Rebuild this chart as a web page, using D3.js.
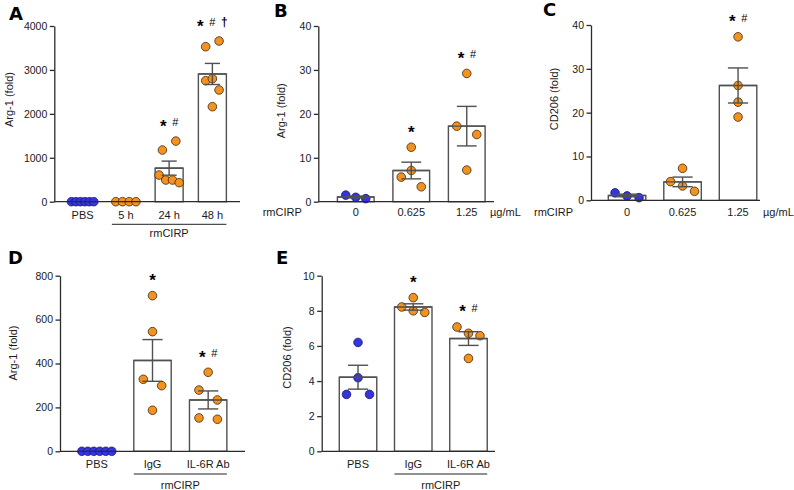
<!DOCTYPE html>
<html>
<head>
<meta charset="utf-8">
<script src="https://cdn.jsdelivr.net/npm/d3@7"></script>
<style>
  html, body { margin: 0; padding: 0; background: #fff; }
  svg { display: block; }
  text { font-family: "Liberation Sans", Arial, Helvetica, sans-serif; fill: #1a1a1a; }
</style>
</head>
<body>
<script>
// ---------------- DATA ----------------
// Panel A: Arg-1 (fold), time course
const A_categories = ["PBS", "5 h", "24 h", "48 h"];
const A_means = [0, 0, 764, 2908];
const A_sems = [0, 0, 160, 240];
const A_points = [
  [0, 0, 0, 0, 0, 0],
  [0, 0, 0, 0],
  [1176, 1380, 607, 493, 493, 433],
  [3529, 3658, 2755, 2801, 2543, 2163]
];
const A_yTicks = [0, 1000, 2000, 3000, 4000];
const A_marks = ["", "", "* #", "* # †"];

// Panel B: Arg-1 (fold), dose response
const B_categories = ["0", "0.625", "1.25"];
const B_means = [1.07, 7.1, 17.2];
const B_sems = [0.2, 1.9, 4.5];
const B_points = [
  [1.5, 1.0, 0.7],
  [12.4, 5.6, 3.4, 7.1],
  [29.2, 17.2, 15.3, 7.2]
];
const B_yTicks = [0, 10, 20, 30, 40];
const B_marks = ["", "*", "* #"];

// Panel C: CD206 (fold), dose response
const C_categories = ["0", "0.625", "1.25"];
const C_means = [1.1, 4.2, 26.2];
const C_sems = [0.3, 1.1, 4.0];
const C_points = [
  [1.7, 1.0, 0.6],
  [7.3, 4.26, 3.27, 2.05],
  [37.3, 26.2, 22.4, 19.0]
];
const C_yTicks = [0, 10, 20, 30, 40];
const C_marks = ["", "", "* #"];

// Panel D: Arg-1 (fold), IL-6R blocking
const D_categories = ["PBS", "IgG", "IL-6R Ab"];
const D_means = [0, 414, 234];
const D_sems = [0, 95, 41];
const D_points = [
  [0, 0, 0, 0, 0, 0],
  [709, 545, 328, 299, 187],
  [360, 279, 234, 152, 146]
];
const D_yTicks = [0, 200, 400, 600, 800];
const D_marks = ["", "*", "* #"];

// Panel E: CD206 (fold), IL-6R blocking
const E_categories = ["PBS", "IgG", "IL-6R Ab"];
const E_means = [4.22, 8.22, 6.42];
const E_sems = [0.68, 0.18, 0.39];
const E_points = [
  [6.2, 4.19, 3.24, 3.24],
  [8.22, 8.0, 7.91, 8.75],
  [7.08, 6.72, 6.58, 5.29]
];
const E_yTicks = [0, 2, 4, 6, 8, 10];
const E_marks = ["", "*", "* #"];

const groupLabel = "rmCIRP";
const doseUnit = "µg/mL";

// ---------------- STYLE ----------------
const BLUE = "#3434e0";
const ORANGE = "#f5911e";
const AXIS = "#2b2b2b";
const BAR = "#505050";

const panels = [
  { letter: "A", lx: 9, ly: 20, cats: A_categories, means: A_means, sems: A_sems, pts: A_points,
    ticks: A_yTicks, marks: A_marks, ctrl: 1, axisX: 54.3, yTop: 26, yBot: 201.7,
    band: [61, 234], xEnd: 240, barW: 28, s: 6.7, ylabel: "Arg-1 (fold)", ylx: 12.7, yly: 99.5,
    catY: 219, group: { from: 1, lineY: 224.3, textY: 237 } },
  { letter: "B", lx: 274, ly: 17, cats: B_categories, means: B_means, sems: B_sems, pts: B_points,
    ticks: B_yTicks, marks: B_marks, ctrl: 1, axisX: 318.3, yTop: 26, yBot: 201.7,
    band: [328, 494.5], xEnd: 494, barW: 36.7, s: 10, ylabel: "Arg-1 (fold)", ylx: 284.5, yly: 110.8,
    catY: 215.5, dose: { prefixX: 262.7, unitX: 490 } },
  { letter: "C", lx: 543, ly: 16, cats: C_categories, means: C_means, sems: C_sems, pts: C_points,
    ticks: C_yTicks, marks: C_marks, ctrl: 1, axisX: 591, yTop: 25, yBot: 200.3,
    band: [599.3, 765.8], xEnd: 760, barW: 37.5, s: 12, ylabel: "CD206 (fold)", ylx: 557.7, yly: 99,
    catY: 216, dose: { prefixX: 534, unitX: 763 } },
  { letter: "D", lx: 8, ly: 264, cats: D_categories, means: D_means, sems: D_sems, pts: D_points,
    ticks: D_yTicks, marks: D_marks, ctrl: 1, axisX: 60, yTop: 275.7, yBot: 451.3,
    band: [69, 236], xEnd: 245, barW: 37.4, s: 9.2, ylabel: "Arg-1 (fold)", ylx: 17, yly: 353,
    catY: 468, group: { from: 1, lineY: 474, textY: 488.5 } },
  { letter: "E", lx: 276, ly: 264, cats: E_categories, means: E_means, sems: E_sems, pts: E_points,
    ticks: E_yTicks, marks: E_marks, ctrl: 1, axisX: 321.7, yTop: 275.7, yBot: 451.3,
    band: [330.4, 496.1], xEnd: 495, barW: 37.5, s: 11.5, ylabel: "CD206 (fold)", ylx: 291, yly: 357.5,
    catY: 468, group: { from: 1, lineY: 474, textY: 488.5 } }
];

const svg = d3.select("body").append("svg")
  .attr("width", 794).attr("height", 490)
  .attr("viewBox", "0 0 794 490");
svg.append("rect").attr("width", 794).attr("height", 490).attr("fill", "#fff");

// arrange replicate dots: consecutive replicates at similar heights share a row
function arrange(vals, y, s, maxW) {
  const groups = [];
  vals.forEach((v, i) => {
    const last = groups[groups.length - 1];
    if (last && Math.abs(y(v) - y(vals[i - 1])) < 12) last.push(v);
    else groups.push([v]);
  });
  const out = [];
  groups.forEach(g => {
    const n = g.length;
    let offs;
    if (n === 1) offs = [0];
    else if (n === 2) offs = [-s, s];
    else if (n === 3) offs = [-s, 0, s];
    else {
      const st = Math.min(s, maxW / (n - 1));
      offs = g.map((_, i) => (i - (n - 1) / 2) * st);
    }
    g.forEach((v, i) => out.push({ v, dx: offs[i] }));
  });
  return out;
}

panels.forEach(p => {
  const g = svg.append("g");
  const y = d3.scaleLinear().domain([0, d3.max(p.ticks)]).range([p.yBot, p.yTop]);
  const x = d3.scaleBand().domain(p.cats).range(p.band).padding(0);
  const cx = c => x(c) + x.bandwidth() / 2;
  const R = 4.3;

  // panel letter
  g.append("text").attr("x", p.lx).attr("y", p.ly)
    .style("font-family", "'DejaVu Sans', 'Liberation Sans', Arial, sans-serif")
    .style("font-weight", "bold").style("font-size", "18px").style("fill", "#000")
    .text(p.letter);

  // bars
  const bars = g.append("g");
  p.cats.forEach((c, i) => {
    if (p.means[i] > 0) {
      bars.append("rect")
        .attr("x", cx(c) - p.barW / 2).attr("y", y(p.means[i]))
        .attr("width", p.barW).attr("height", y(0) - y(p.means[i]))
        .attr("fill", "#fff").attr("stroke", BAR).attr("stroke-width", 1.4);
    }
  });

  // dots
  const dots = g.append("g");
  p.cats.forEach((c, i) => {
    const arr = arrange(p.pts[i], y, p.s, p.barW * 0.8);
    arr.forEach(d => {
      dots.append("circle")
        .attr("cx", cx(c) + d.dx).attr("cy", y(d.v)).attr("r", R)
        .attr("fill", i < p.ctrl ? BLUE : ORANGE)
        .attr("stroke", i < p.ctrl ? "#1a1a6a" : "#3a2a10").attr("stroke-width", 0.8);
    });
  });

  // error bars (drawn over dots) and bar tops
  const err = g.append("g").attr("stroke", BAR).attr("stroke-width", 1.4).attr("fill", "none");
  p.cats.forEach((c, i) => {
    const m = p.means[i], se = p.sems[i];
    if (m <= 0) return;
    const xc = cx(c), cap = p.barW * 0.27;
    err.append("line").attr("x1", xc - p.barW / 2).attr("x2", xc + p.barW / 2)
      .attr("y1", y(m)).attr("y2", y(m));
    if (se > 0) {
      err.append("line").attr("x1", xc).attr("x2", xc).attr("y1", y(m - se)).attr("y2", y(m + se));
      err.append("line").attr("x1", xc - cap).attr("x2", xc + cap).attr("y1", y(m + se)).attr("y2", y(m + se));
      err.append("line").attr("x1", xc - cap).attr("x2", xc + cap).attr("y1", y(m - se)).attr("y2", y(m - se));
    }
  });

  // y axis
  const ya = g.append("g").attr("transform", `translate(${p.axisX},0)`)
    .call(d3.axisLeft(y).tickValues(p.ticks).tickSize(4.5).tickSizeOuter(0).tickPadding(2.5)
      .tickFormat(d3.format("d")));
  ya.select(".domain").attr("stroke", AXIS).attr("stroke-width", 1.3);
  ya.selectAll(".tick line").attr("stroke", AXIS).attr("stroke-width", 1.3);
  ya.selectAll(".tick text").style("font-size", "10.5px")
    .style("font-family", "'Liberation Sans', Arial, sans-serif").attr("fill", "#1a1a1a");

  // x axis baseline
  g.append("line").attr("x1", p.axisX).attr("x2", p.xEnd).attr("y1", y(0)).attr("y2", y(0))
    .attr("stroke", AXIS).attr("stroke-width", 1.3);

  // y label
  g.append("text").attr("transform", `translate(${p.ylx},${p.yly}) rotate(-90)`)
    .attr("text-anchor", "middle").style("font-size", "11px").text(p.ylabel);

  // category labels
  p.cats.forEach(c => {
    g.append("text").attr("x", cx(c)).attr("y", p.catY).attr("text-anchor", "middle")
      .style("font-size", "11px").text(c);
  });

  if (p.group) {
    const first = p.cats[p.group.from], last = p.cats[p.cats.length - 1];
    const x1 = cx(first) - p.barW / 2, x2 = cx(last) + p.barW / 2;
    g.append("line").attr("x1", x1).attr("x2", x2).attr("y1", p.group.lineY).attr("y2", p.group.lineY)
      .attr("stroke", "#222").attr("stroke-width", 1);
    g.append("text").attr("x", (x1 + x2) / 2).attr("y", p.group.textY).attr("text-anchor", "middle")
      .style("font-size", "11px").text(groupLabel);
  }
  if (p.dose) {
    g.append("text").attr("x", p.dose.prefixX).attr("y", p.catY).style("font-size", "11px").text(groupLabel);
    g.append("text").attr("x", p.dose.unitX).attr("y", p.catY).style("font-size", "11px").text(doseUnit);
  }

  // significance marks
  p.cats.forEach((c, i) => {
    if (!p.marks[i]) return;
    const syms = p.marks[i].split(" ");
    const top = Math.min(y(d3.max(p.pts[i])), y(p.means[i] + p.sems[i]));
    const yc = top - 19;
    const n = syms.length;
    syms.forEach((sym, k) => {
      const off = n === 2 ? (k === 0 ? -5.8 : 6.2) : (k - (n - 1) / 2) * 12;
      const t = g.append("text").attr("x", cx(c) + off).attr("text-anchor", "middle").text(sym)
        .style("fill", "#000");
      if (sym === "*") {
        t.attr("y", yc + 9.5).style("font-size", "17px").style("font-weight", "bold");
      } else if (sym === "#") {
        t.attr("y", yc + 4).style("font-size", "11px");
      } else {
        t.attr("y", yc + 4).style("font-size", "12px").style("font-weight", "bold");
      }
    });
  });
});
</script>
</body>
</html>
